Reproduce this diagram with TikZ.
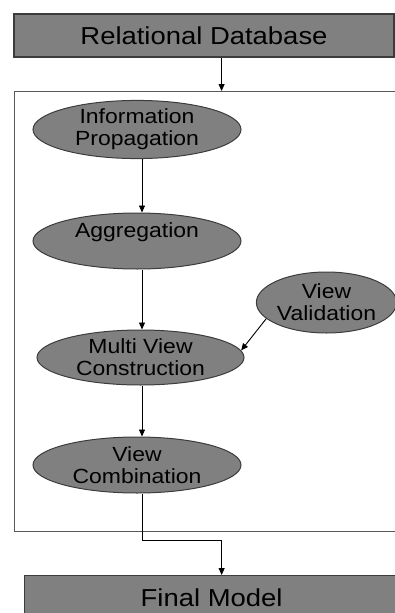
\documentclass[tikz,border=0pt]{standalone}
\usepackage{fontspec}
\newfontfamily\flowfont{Liberation Sans}[FakeStretch=1.12]
\usetikzlibrary{shapes.geometric,arrows.meta}

\definecolor{boxgray}{RGB}{128,128,128}
\definecolor{edgegray}{RGB}{60,60,60}

\begin{document}
\begin{tikzpicture}[x=1pt,y=-1pt,
    stage/.style={draw=edgegray, line width=1.3pt, fill=boxgray, inner sep=0pt,
        font=\flowfont\fontsize{24.5}{28}\selectfont},
    task/.style={ellipse, draw=edgegray, line width=1pt, fill=boxgray, inner sep=0pt,
        align=center, font=\flowfont\fontsize{20.5}{22}\selectfont},
    flow/.style={-{Triangle[length=7pt,width=6pt]}, line width=0.9pt}]

    % Fix the page to the size of the picture
    \useasboundingbox (0,0) rectangle (395,613);

    % Draw the outer frame
    \node[draw=black!65, line width=1.2pt, minimum width=414pt, minimum height=440pt,
        anchor=north west] (frame) at (14,91) {};

    % Draw the input and output boxes
    \node[stage, minimum width=380pt, minimum height=43pt] (rdb) at (204,35.5) {Relational Database};
    \node[stage, minimum width=374pt, minimum height=44pt, anchor=north west] (fm) at (24,575) {Final Model};

    % Draw the steps
    \node[task, minimum width=208pt, minimum height=55pt] (info) at (137,129.5) {Information\\Propagation};
    \node[task, minimum width=208pt, minimum height=56pt] (agg) at (137,241) {Aggregation\\\mbox{}};
    \node[task, minimum width=207pt, minimum height=55pt] (mvc) at (140.5,357.5) {Multi View\\Construction};
    \node[task, minimum width=208pt, minimum height=56pt] (vc) at (137,465) {View\\Combination};
    \node[task, minimum width=133pt, minimum height=61pt] (vv) at (326.5,302.5) {View\\Validation};

    % Draw the arrows
    \draw[flow] (rdb.south -| frame.north) -- (frame.north);
    \draw[flow] ([xshift=5pt]info.south) -- ([xshift=5pt]agg.north);
    \draw[flow] ([xshift=5pt]agg.south) -- ([xshift=1.5pt]mvc.north);
    \draw[flow] (vv.195) -- (mvc.4);
    \draw[flow] ([xshift=1.5pt]mvc.south) -- ([xshift=5pt]vc.north);
    \draw[flow] ([xshift=5pt]vc.south) -- ++(0,47) -| ([xshift=10pt]fm.north);

\end{tikzpicture}
\end{document}
